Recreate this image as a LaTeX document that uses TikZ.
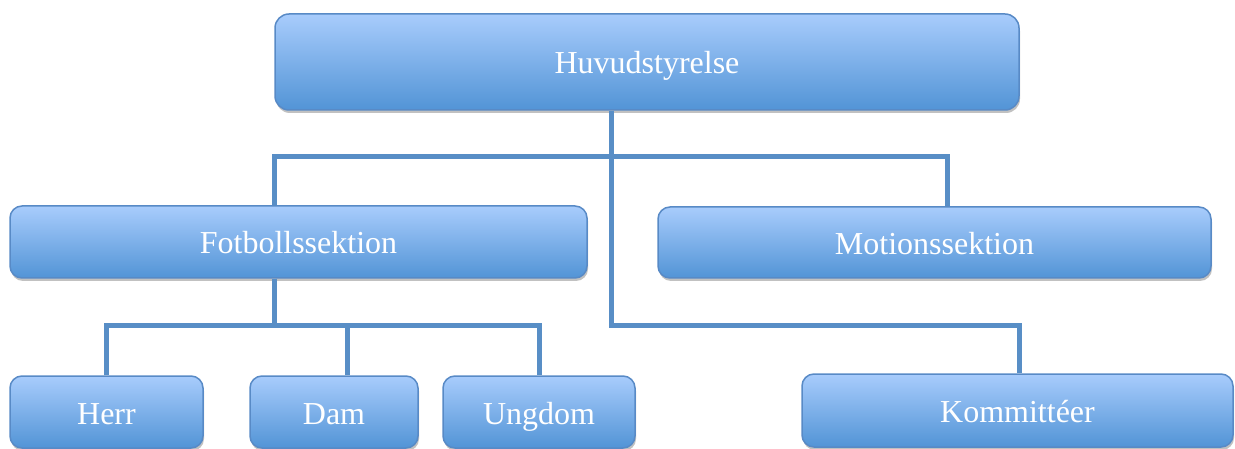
\documentclass[tikz,border=0pt]{standalone}
\usepackage{fontspec}
\setmainfont{Liberation Serif}
\usepackage{tikz}
\usetikzlibrary{shadows}
\definecolor{boxtop}{RGB}{168,204,252}
\definecolor{boxbottom}{RGB}{82,148,214}
\definecolor{boxline}{RGB}{88,138,198}
\definecolor{linkblue}{RGB}{88,142,198}

\begin{document}
\begin{tikzpicture}[x=1pt, y=-1pt,
    orgbox/.style={rectangle, rounded corners=12pt, draw=boxline, line width=1.5pt,
        top color=boxtop, bottom color=boxbottom, text=white, inner sep=0pt,
        font=\fontsize{32}{38}\selectfont, text height=28pt, text depth=4pt,
        drop shadow={shadow xshift=1pt, shadow yshift=-3pt, opacity=0.35, fill=black!70}},
    link/.style={draw=linkblue, line width=5pt}]
    \useasboundingbox (0,0) rectangle (1235,449);

    % Draw the boxes
    \node[orgbox, rounded corners=14pt, minimum width=744pt, minimum height=96pt] (Huvud) at (647,62) {Huvudstyrelse};
    \node[orgbox, minimum width=577pt, minimum height=72pt] (Fotboll) at (298.5,242) {Fotbollssektion};
    \node[orgbox, minimum width=553pt, minimum height=71pt] (Motion) at (934.5,242.5) {Motionssektion};
    \node[orgbox, minimum width=193pt, minimum height=72pt] (Herr) at (106.5,412) {Herr};
    \node[orgbox, minimum width=168pt, minimum height=72pt] (Dam) at (334,412) {Dam};
    \node[orgbox, minimum width=192pt, minimum height=72pt] (Ungdom) at (539,412) {Ungdom};
    \node[orgbox, minimum width=431pt, minimum height=73pt] (Komm) at (1017.5,410.5) {Kommittéer};

    % Define coordinates for the bends
    \coordinate (Trunk) at (611,157);
    \coordinate (Mbar) at (947,157);
    \coordinate (Lowbar) at (274,325);
    \coordinate (Kbend) at (1019,325);
    \coordinate (Dbar) at (347,325);

    % Connect the boxes
    \draw[link] (Huvud.south -| Trunk) |- (Kbend) -- (Kbend |- Komm.north);
    \draw[link] (Fotboll.north -| Lowbar) |- (Mbar) -- (Mbar |- Motion.north);
    \draw[link] (Fotboll.south -| Lowbar) -- (Lowbar);
    \draw[link] (Herr.north) |- (Ungdom.north |- Lowbar) -- (Ungdom.north);
    \draw[link] (Dbar) -- (Dbar |- Dam.north);
\end{tikzpicture}
\end{document}
